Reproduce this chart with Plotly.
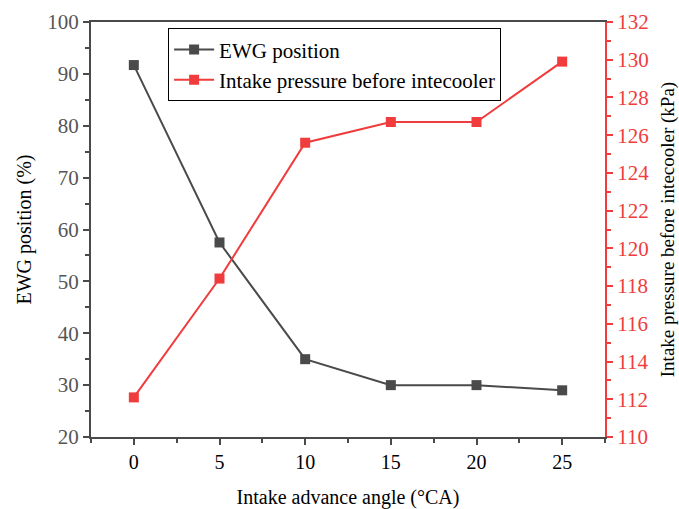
import plotly.graph_objects as go

angle = [0, 5, 10, 15, 20, 25]
ewg = [91.7, 57.5, 35.0, 30.0, 30.0, 29.0]
pressure = [112.1, 118.4, 125.6, 126.7, 126.7, 129.9]

dark = "#4a4a4a"
red = "#f03c3c"
font = "Liberation Serif, DejaVu Serif, serif"

fig = go.Figure()
fig.add_trace(go.Scatter(x=angle, y=ewg, name="EWG position", mode="lines+markers",
                         line=dict(color=dark, width=2),
                         marker=dict(symbol="square", size=10, color=dark)))
fig.add_trace(go.Scatter(x=angle, y=pressure, name="Intake pressure before intecooler",
                         mode="lines+markers", yaxis="y2",
                         line=dict(color=red, width=2),
                         marker=dict(symbol="square", size=10, color=red)))

fig.update_layout(
    width=679, height=509,
    margin=dict(l=91, r=74, t=22, b=72),
    plot_bgcolor="white", paper_bgcolor="white",
    font=dict(family=font, size=20, color="black"),
    showlegend=True,
    legend=dict(x=0.15, y=0.985, xanchor="left", yanchor="top",
                bordercolor="black", borderwidth=1, bgcolor="white",
                font=dict(size=21, family=font), tracegroupgap=0, itemwidth=40),
    xaxis=dict(range=[-2.5, 27.5], tickvals=angle, ticks="outside", ticklen=6,
               tickwidth=2, tickcolor=dark, showline=True, linewidth=2, linecolor=dark,
               mirror=True, showgrid=False, zeroline=False, automargin=False,
               minor=dict(dtick=2.5, tick0=0, ticks="outside", ticklen=4, tickwidth=2, tickcolor=dark),
               title=dict(text="Intake advance angle (°CA)", font=dict(size=20, family=font), standoff=22),
               tickfont=dict(size=20, color="black", family=font)),
    yaxis=dict(range=[20, 100], dtick=10, ticks="outside", ticklen=6, tickwidth=2,
               tickcolor=dark, showline=True, linewidth=2, linecolor=dark,
               showgrid=False, zeroline=False, automargin=False,
               minor=dict(dtick=5, ticks="outside", ticklen=4, tickwidth=2, tickcolor=dark),
               title=dict(text="EWG position (%)", font=dict(size=20, family=font), standoff=10),
               tickfont=dict(size=21, color="#555555", family=font)),
    yaxis2=dict(range=[110, 132], dtick=2, overlaying="y", side="right",
                ticks="outside", ticklen=6, tickwidth=2, tickcolor=red, automargin=False,
                showline=True, linewidth=2, linecolor=red, showgrid=False, zeroline=False,
                minor=dict(dtick=1, ticks="outside", ticklen=4, tickwidth=2, tickcolor=red),
                title=dict(text="Intake pressure before intecooler (kPa)", font=dict(size=19, color="black", family=font), standoff=12),
                tickfont=dict(size=21, color=red, family=font)),
)

fig.write_html("out.html")
